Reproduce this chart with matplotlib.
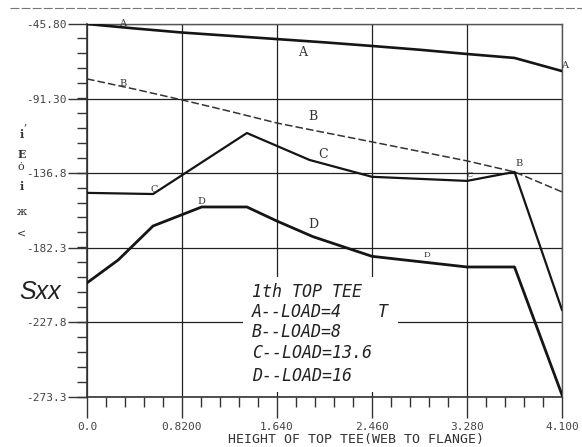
import matplotlib
matplotlib.use("Agg")
from matplotlib import pyplot as plt
from matplotlib.patches import Rectangle
from matplotlib.ticker import MultipleLocator, FixedLocator
import numpy as np

# data
a_x = [0.0, 0.41, 0.82, 1.23, 1.64, 2.05, 2.46, 2.87, 3.28, 3.69, 4.1]
a_y = [-45.8, -48.5, -51.0, -53.0, -55.0, -57.0, -59.2, -61.5, -64.1, -66.5, -74.5]

b_x = [0.0, 0.41, 0.82, 1.23, 1.64, 2.05, 2.46, 2.87, 3.28, 3.69, 4.1]
b_y = [-79.3, -85.5, -92.1, -99.0, -106.2, -112.0, -117.7, -123.5, -129.3, -136.0, -148.2]

c_x = [0.0, 0.57, 1.38, 1.92, 2.46, 3.28, 3.69, 4.1]
c_y = [-148.8, -149.5, -112.3, -128.7, -139.0, -141.5, -136.0, -220.2]

d_x = [0.0, 0.27, 0.57, 0.99, 1.38, 1.64, 1.95, 2.46, 3.28, 3.69, 4.1]
d_y = [-203.7, -189.7, -169.0, -157.4, -157.4, -166.0, -175.5, -187.5, -194.0, -194.0, -272.0]

x_ticks = [0.0, 0.82, 1.64, 2.46, 3.28, 4.1]
x_tick_labels = ["0.0", "0.8200", "1.640", "2.460", "3.280", "4.100"]
y_ticks = [-45.8, -91.3, -136.8, -182.3, -227.8, -273.3]
y_tick_labels = ["-45.80", "-91.30", "-136.8", "-182.3", "-227.8", "-273.3"]

legend_lines = ["1th TOP TEE", "A--LOAD=4", "B--LOAD=8", "C--LOAD=13.6", "D--LOAD=16"]

# curve letters written along the lines
curve_marks = [
    ("A", 0.31, -45.2, 7), ("A", 1.86, -62.9, 9), ("A", 4.12, -71.4, 7),
    ("B", 0.31, -81.8, 7), ("B", 1.95, -102.5, 9), ("B", 3.73, -130.6, 7),
    ("C", 0.58, -147.0, 7), ("C", 2.04, -125.1, 9), ("C", 3.30, -137.9, 6),
    ("D", 0.99, -154.3, 7), ("D", 1.95, -167.8, 9), ("D", 2.93, -186.7, 6),
]

W, H = 582, 447
fig = plt.figure(figsize=(W / 100, H / 100), dpi=100)

def px(x, y):
    return x / W, 1 - y / H

left, right, top, bottom = 87, 562, 24, 397
ax = fig.add_axes([left / W, 1 - bottom / H, (right - left) / W, (bottom - top) / H])

ink = "#151515"
ax.plot(a_x, a_y, color=ink, lw=1.9, zorder=3)
ax.plot(b_x, b_y, color="#333333", lw=1.1, linestyle=(0, (5, 2)), zorder=3)
ax.plot(c_x, c_y, color=ink, lw=1.6, zorder=3)
ax.plot(d_x, d_y, color=ink, lw=2.0, zorder=3)

for lab, x, y, fs in curve_marks:
    ax.text(x, y, lab, fontsize=fs, family="DejaVu Serif", color="#333333",
            ha="center", va="center", zorder=4)

ax.set_xlim(0, 4.1)
ax.set_ylim(-273.3, -45.8)
ax.xaxis.set_major_locator(FixedLocator(x_ticks))
ax.yaxis.set_major_locator(FixedLocator(y_ticks))
ax.xaxis.set_minor_locator(MultipleLocator(0.164))
ax.yaxis.set_minor_locator(MultipleLocator(9.1))
ax.set_xticklabels(x_tick_labels, family="DejaVu Sans Mono", fontsize=8, color="#444444")
ax.set_yticklabels(y_tick_labels, family="DejaVu Sans Mono", fontsize=8, color="#444444")
ax.tick_params(which="major", direction="out", length=14, width=1.0, color="#333333", pad=1)
ax.tick_params(which="minor", direction="out", length=7, width=1.0, color="#333333")
ax.tick_params(axis="x", which="major", length=15, pad=3)
ax.grid(True, which="major", color="#222222", lw=0.9)

for side in ["left", "bottom"]:
    ax.spines[side].set_color("#333333")
    ax.spines[side].set_linewidth(1.2)
for side in ["top", "right"]:
    ax.spines[side].set_color("#555555")
    ax.spines[side].set_linewidth(1.0)
    ax.spines[side].set_linestyle((0, (3, 1)))

# white box behind the legend text hides the grid
ax.add_patch(Rectangle(((243 - left) / (right - left), (bottom - 392) / (bottom - top)),
                       155 / (right - left), 115 / (bottom - top),
                       transform=ax.transAxes, facecolor="white", edgecolor="none", zorder=1.8))

legend_y = [292, 312, 332, 353, 376]
for s, y in zip(legend_lines, legend_y):
    fig.text(*px(252, y), s, family="DejaVu Sans Mono", style="oblique", fontsize=12,
             color="#222222", ha="left", va="center")
fig.text(*px(383, 312), "T", family="DejaVu Sans Mono", style="oblique", fontsize=12,
         color="#222222", ha="center", va="center")

fig.text(*px(40, 292), "Sxx", family="Liberation Sans", style="italic", fontsize=18,
         color="#222222", ha="center", va="center")

# garbled vertical unit label
unit_chars = [(",", 25, 121, "normal"), ("i", 22, 134, "bold"), ("E", 22, 155, "bold"),
              ("ȯ", 21, 167, "normal"), ("i", 22, 187, "bold"), ("ж", 22, 212, "normal"),
              ("<", 22, 235, "normal")]
for ch, x, y, wt in unit_chars:
    fig.text(*px(x, y), ch, family=["DejaVu Serif", "DejaVu Sans"], fontsize=8, weight=wt,
             color="#333333", ha="center", va="center")

fig.text(*px(356, 440), "HEIGHT OF TOP TEE(WEB TO FLANGE)", family="DejaVu Sans Mono",
         fontsize=9.5, color="#333333", ha="center", va="center")

# scan border at top
fig.add_artist(plt.Line2D([10 / W, 1], [1 - 8 / H, 1 - 8 / H], transform=fig.transFigure,
                          color="#777777", lw=0.8, linestyle=(0, (8, 2))))

fig.savefig("out.png", dpi=100)
